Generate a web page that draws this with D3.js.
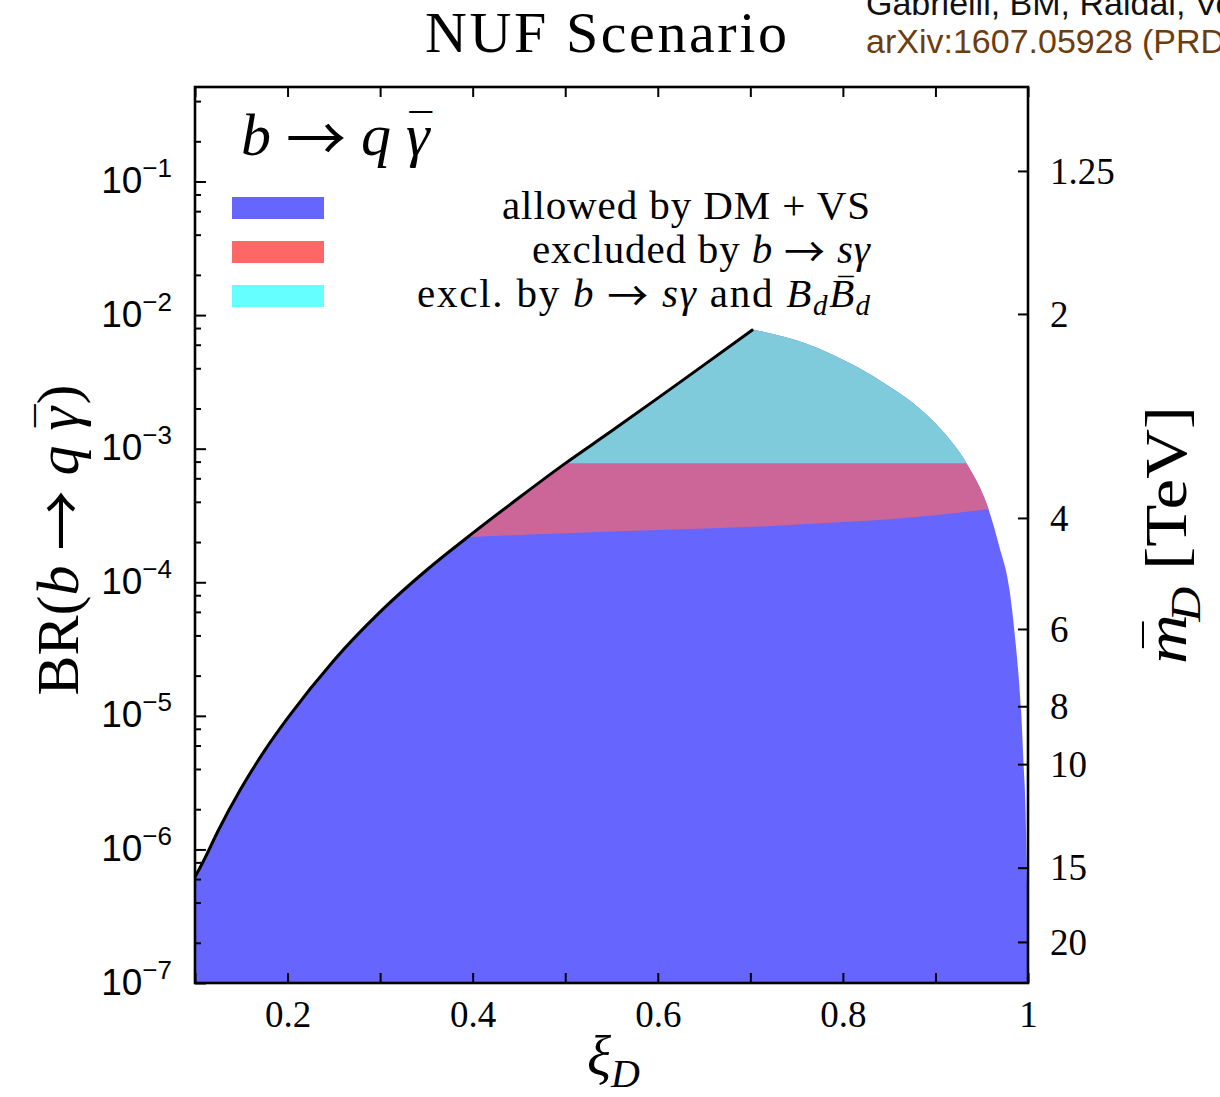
<!DOCTYPE html>
<html>
<head>
<meta charset="utf-8">
<script src="https://cdn.jsdelivr.net/npm/d3@7"></script>
<style>
  body { margin: 0; background: #fff; }
  svg { display: block; font-family: "Liberation Serif", "Times New Roman", serif; }
  .axis path { display: none; }
  .axis line { stroke: #000; stroke-width: 2; }
</style>
</head>
<body>
<div id="chart"></div>
<script>
// upper edge of the allowed region (black curve), xi_D vs BR
const xiUpper = [0.10, 0.11, 0.125, 0.15, 0.175, 0.20, 0.25, 0.30, 0.35, 0.40, 0.45, 0.50, 0.55, 0.60, 0.65, 0.703];
const brUpper = [6.2e-7, 8.4e-7, 1.38e-6, 2.88e-6, 5.46e-6, 9.6e-6, 2.6e-5, 6.0e-5, 1.23e-4, 2.33e-4, 4.29e-4, 7.76e-4, 1.355e-3, 2.39e-3, 4.24e-3, 7.8e-3];
// falling edge on the right
const xiFall = [0.703, 0.76, 0.8156, 0.8476, 0.8757, 0.9077, 0.9337, 0.9574, 0.969, 0.980, 0.987, 0.9927, 0.9952, 0.9974, 0.9988, 0.9999, 1.0];
const brFall = [7.8e-3, 6.14e-3, 4.08e-3, 3.0e-3, 2.2e-3, 1.355e-3, 7.76e-4, 3.52e-4, 1.85e-4, 8.8e-5, 3.3e-5, 1.05e-5, 4.4e-6, 1.9e-6, 5.9e-7, 1.9e-7, 1e-7];
// lower edge of the b -> s gamma excluded band
const xiRedLow = [0.35, 0.391, 0.5, 0.6, 0.703, 0.8, 0.9, 0.957, 1.0];
const brRedLow = [2.1e-4, 2.17e-4, 2.33e-4, 2.46e-4, 2.6e-4, 2.82e-4, 3.18e-4, 3.52e-4, 3.75e-4];
// above this the Bd-Bdbar constraint also excludes
const brCut = 7.76e-4;

const xTicks = [0.1, 0.2, 0.3, 0.4, 0.5, 0.6, 0.7, 0.8, 0.9, 1.0];
const xLabels = [0.2, 0.4, 0.6, 0.8, 1];
const yExp = [-7, -6, -5, -4, -3, -2, -1];
const yMinorMult = [2, 4, 6, 8];
const mdTicks = ["1.25", "2", "4", "6", "8", "10", "15", "20"];
const mdBR = [0.12, 1.02e-2, 3.03e-4, 4.47e-5, 1.18e-5, 4.35e-6, 7.3e-7, 2.03e-7];

const legendColors = ["#6666ff", "#ff6666", "#66ffff"];

const W = 1220, H = 1097;
const margin = { top: 87, right: 192, bottom: 114, left: 195 };
const width = W - margin.left - margin.right;
const height = H - margin.top - margin.bottom;

const svg = d3.select("#chart").append("svg")
  .attr("width", W).attr("height", H)
  .style("overflow", "hidden");

const g = svg.append("g").attr("transform", `translate(${margin.left},${margin.top})`);

const x = d3.scaleLinear().domain([0.1, 1]).range([0, width]);
const y = d3.scaleLog().domain([1e-7, 0.51]).range([height, 0]);

// envelope path (black curve + right falling edge)
const line = d3.line().x(d => x(d[0])).y(d => y(d[1])).curve(d3.curveMonotoneX);
const upperPts = xiUpper.map((v, i) => [v, brUpper[i]]);
const fallPts = xiFall.map((v, i) => [v, brFall[i]]);
const upperPath = line(upperPts);
const fallPath = line(fallPts).replace(/^M/, "L");
const envPath = upperPath + fallPath + `L${x(1)},${y(1e-7)}L${x(0.1)},${y(1e-7)}Z`;

g.append("clipPath").attr("id", "env").append("path").attr("d", envPath);

// allowed region
g.append("path").attr("d", envPath).attr("fill", "#6666ff");

// excluded by b -> s gamma
const redPts = xiRedLow.map((v, i) => [v, brRedLow[i]]);
g.append("path")
  .attr("clip-path", "url(#env)")
  .attr("fill", "#cc6699")
  .attr("d", d3.area().x(d => x(d[0])).y0(d => y(d[1])).y1(y(brCut)).curve(d3.curveMonotoneX)(redPts));

// excluded by b -> s gamma and Bd mixing
g.append("rect")
  .attr("clip-path", "url(#env)")
  .attr("x", x(0.4)).attr("width", x(1) - x(0.4))
  .attr("y", 0).attr("height", y(brCut))
  .attr("fill", "#7fcadb");

// black curve
g.append("path").attr("d", upperPath)
  .attr("fill", "none").attr("stroke", "#000").attr("stroke-width", 3);

// axes
const xAxis = g.append("g").attr("class", "axis")
  .attr("transform", `translate(0,${height})`)
  .call(d3.axisBottom(x).tickValues(xTicks).tickSizeInner(-10).tickSizeOuter(0)
    .tickFormat(d => xLabels.includes(+d.toFixed(1)) ? d3.format("~g")(d) : ""));
xAxis.selectAll("text").attr("font-size", 37).attr("font-family", "Liberation Serif")
  .attr("fill", "#000").attr("dy", null).attr("y", 44);

g.append("g").attr("class", "axis")
  .call(d3.axisTop(x).tickValues(xTicks).tickSizeInner(-10).tickSizeOuter(0).tickFormat(""));

const yMajor = yExp.map(e => Math.pow(10, e));
const yMinor = [];
yExp.forEach(e => yMinorMult.forEach(m => { const v = m * Math.pow(10, e); if (v < 0.51) yMinor.push(v); }));

const yAxis = g.append("g").attr("class", "axis")
  .call(d3.axisLeft(y).tickValues(yMajor).tickSizeInner(-11).tickSizeOuter(0).tickFormat(""));
g.append("g").attr("class", "axis")
  .call(d3.axisLeft(y).tickValues(yMinor).tickSizeInner(-6).tickSizeOuter(0).tickFormat(""));

yAxis.selectAll(".tick").each(function(d) {
  const t = d3.select(this).append("text")
    .attr("x", -23).attr("y", 11)
    .attr("text-anchor", "end").attr("font-size", 37).attr("fill", "#000");
  t.append("tspan").text("10");
  t.append("tspan").attr("dy", -16).attr("font-size", 26).text("−" + Math.round(-Math.log10(d)));
});

const rAxis = g.append("g").attr("class", "axis")
  .attr("transform", `translate(${width},0)`)
  .call(d3.axisRight(y).tickValues(mdBR).tickSizeInner(-10).tickSizeOuter(0)
    .tickFormat((d, i) => mdTicks[i]));
rAxis.selectAll("text").attr("font-size", 37).attr("font-family", "Liberation Serif")
  .attr("fill", "#000").attr("x", 22).attr("dy", "0.33em");

// frame
g.append("rect").attr("width", width).attr("height", height)
  .attr("fill", "none").attr("stroke", "#000").attr("stroke-width", 2.6);

// mixed text: each part {t, it, fs (px), dx, dy (px), fam}
function rich(sel, parts) {
  parts.forEach(p => {
    const ts = sel.append("tspan").text(p.t);
    if (p.it) ts.attr("font-style", "italic");
    if (p.fs) ts.attr("font-size", p.fs);
    if (p.dx != null) ts.attr("dx", p.dx);
    if (p.dy != null) ts.attr("dy", p.dy);
    if (p.fam) ts.attr("font-family", p.fam);
  });
  return sel;
}
const T = (t, o) => Object.assign({ t }, o || {});
const arrow = s => [T(" "), T("→", { fam: "Noto Sans CJK JP", fs: s, dy: s * 0.1 }), T(" ", { dy: -s * 0.1 })];
// macron placed back over the previous glyph of width w (px)
const bar = (s, w) => {
  const f = s * 0.75, bw = f * 0.5;
  return T("\u00AF", { fs: f, dx: -(w / 2) - bw / 2 + s * 0.06, dy: -s * 0.16 });
};

// in-plot label
rich(g.append("text").attr("x", 46).attr("y", 68).attr("font-size", 60).attr("fill", "#000"),
  [T("b", { it: 1 }), ...arrow(60), T("q", { it: 1 }), T("  "), T("γ", { it: 1 }), bar(60, 25), T("", { dy: 60 * 0.16 })]);

// legend
legendColors.forEach((c, i) => {
  g.append("rect").attr("x", 37).attr("y", 110 + i * 44).attr("width", 92).attr("height", 22)
    .attr("fill", c);
});
const lt = (i, len) => g.append("text").attr("x", 675).attr("y", 132 + i * 44)
  .attr("text-anchor", "end").attr("font-size", 41).attr("fill", "#000")
  .attr("textLength", len);
lt(0, 368).text("allowed by DM + VS");
rich(lt(1, 338), [T("excluded by "), T("b", { it: 1 }), ...arrow(41), T("sγ", { it: 1 })]);
rich(lt(2, 453), [T("excl.  by "), T("b", { it: 1 }), ...arrow(41), T("sγ", { it: 1 }), T(" and "),
  T("B", { it: 1 }), T("d", { it: 1, fs: 29, dy: 8 }),
  T("B", { it: 1, dy: -8 }), bar(41, 25), T("d", { it: 1, fs: 29, dy: 8 + 41 * 0.16 })]);

// axis titles
rich(g.append("text").attr("x", width / 2 + 2).attr("y", height + 92)
  .attr("text-anchor", "middle").attr("font-size", 56).attr("fill", "#000"),
  [T("ξ", { it: 1 }), T("D", { it: 1, fs: 40, dy: 12 })]);

rich(svg.append("text").attr("transform", "translate(78,540) rotate(-90)")
  .attr("text-anchor", "middle").attr("font-size", 60).attr("fill", "#000"),
  [T("BR("), T("b", { it: 1 }), ...arrow(60), T("q", { it: 1 }), T(" "), T("γ", { it: 1 }), bar(60, 25),
   T(")", { dy: 60 * 0.16 })]);

rich(svg.append("text").attr("transform", "translate(1186,535) rotate(-90)")
  .attr("text-anchor", "middle").attr("font-size", 60).attr("fill", "#000")
  .attr("textLength", 258).attr("lengthAdjust", "spacingAndGlyphs"),
  [T("m", { it: 1 }), bar(60, 43), T("D", { it: 1, fs: 42, dy: 60 * 0.16 + 14 }), T(" [TeV]", { dy: -14 })]);

// title and citation
svg.append("text").attr("x", 606).attr("y", 52).attr("text-anchor", "middle")
  .attr("font-size", 58).attr("textLength", 362).attr("fill", "#000").text("NUF Scenario");
svg.append("text").attr("x", 866).attr("y", 15)
  .attr("font-family", "Liberation Sans, Arial, sans-serif").attr("font-size", 34)
  .attr("fill", "#111").text("Gabrielli, BM, Raidal, Venturini");
svg.append("text").attr("x", 866).attr("y", 53)
  .attr("font-family", "Liberation Sans, Arial, sans-serif").attr("font-size", 34)
  .attr("fill", "#6e3d0e").text("arXiv:1607.05928 (PRD 2016)");
</script>
</body>
</html>
